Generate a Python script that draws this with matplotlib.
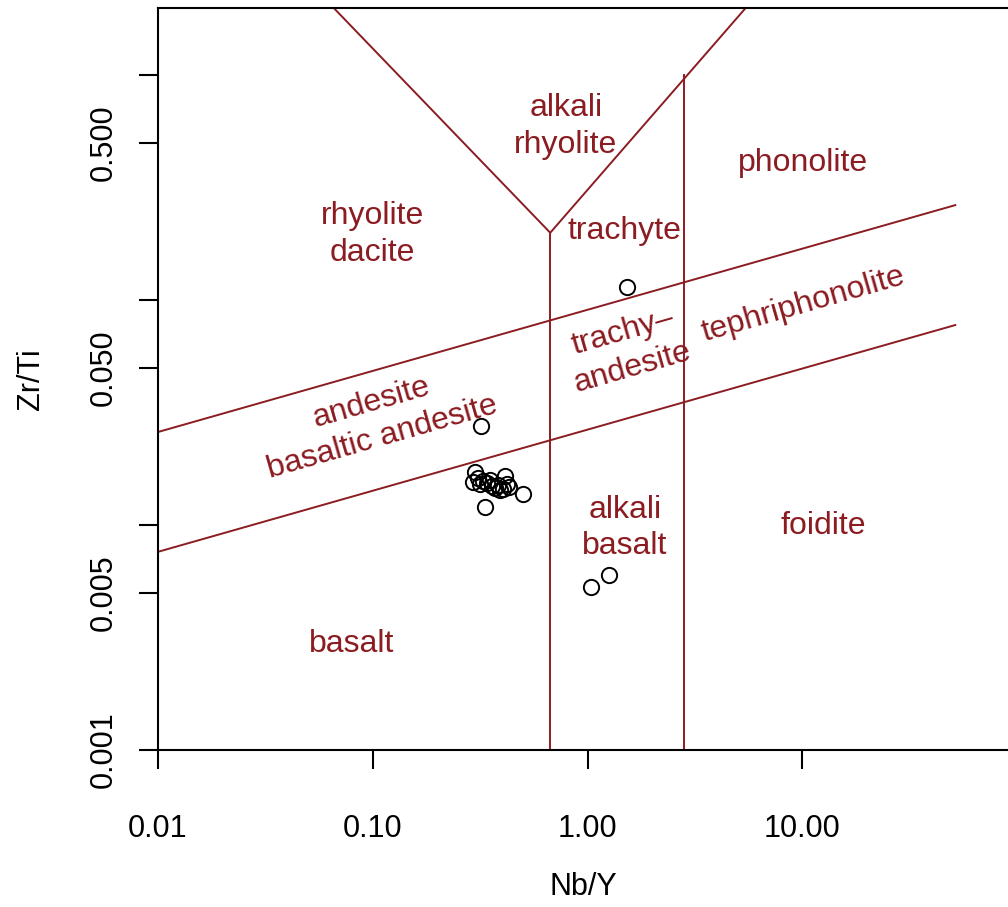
import numpy as np
import matplotlib
matplotlib.use("Agg")
import matplotlib.pyplot as plt

plt.rcParams['font.family'] = ['Liberation Sans', 'DejaVu Sans']

# samples (Nb/Y, Zr/Ti)
nb_y = [0.319, 1.526, 1.037, 1.258,
        0.299, 0.293, 0.309, 0.326, 0.340, 0.359, 0.371, 0.391,
        0.413, 0.422, 0.431, 0.500, 0.333, 0.316, 0.351, 0.383, 0.404]
zr_ti = [0.0275, 0.114, 0.0053, 0.0060,
         0.0172, 0.0155, 0.0162, 0.0157, 0.0154, 0.0149, 0.0146, 0.0143,
         0.0165, 0.0152, 0.0148, 0.0137, 0.0120, 0.0152, 0.0158, 0.0151, 0.0145]

# field boundaries (Pearce 1996)
upper_x = [0.01, 51.5]
upper_y = [0.0259, 0.264]
lower_x = [0.01, 51.5]
lower_y = [0.0076, 0.0774]
vee_x = [0.0653, 0.67, 5.48]
vee_y = [2.0, 0.199, 2.0]
vert1_x = [0.67, 0.67]
vert1_y = [0.001, 0.199]
vert2_x = [2.81, 2.81]
vert2_y = [0.001, 1.0]

# field labels
labels = ["alkali\nrhyolite", "phonolite", "rhyolite\ndacite", "trachyte",
          "trachy\u2013\nandesite", "tephriphonolite",
          "andesite\nbasaltic andesite", "alkali\nbasalt", "foidite", "basalt"]
label_x = [0.793, 10.07, 0.1, 1.49, 1.54, 10.07, 0.1046, 1.49, 12.5, 0.080]
label_y = [0.588, 0.406, 0.196, 0.203, 0.060, 0.095, 0.0293, 0.0097, 0.0099, 0.00296]
label_rot = [0, 0, 0, 0, 16, 16, 16, 0, 0, 0]

xticks = [0.01, 0.1, 1, 10]
xticklabels = ["0.01", "0.10", "1.00", "10.00"]
yticks = [0.001, 0.005, 0.01, 0.05, 0.1, 0.5, 1]
yticklabels = ["0.001", "0.005", "", "0.050", "", "0.500", ""]

red = "#8b1c21"

fig = plt.figure(figsize=(10.08, 9.07), dpi=100)
ax = fig.add_axes([158 / 1008, 157 / 907, 850 / 1008, 742 / 907])
ax.set_xscale("log")
ax.set_yscale("log")
ax.set_xlim(0.01, 10 ** (-2 + 850 / 214.8))
ax.set_ylim(0.001, 10 ** (-3 + 742 / 225))

for xs, ys in [(upper_x, upper_y), (lower_x, lower_y), (vee_x, vee_y),
               (vert1_x, vert1_y), (vert2_x, vert2_y)]:
    ax.plot(xs, ys, color=red, lw=1.4, clip_on=True)

for t, x, y, r in zip(labels, label_x, label_y, label_rot):
    ax.text(x, y, t, color=red, fontsize=23, ha="center", va="center",
            rotation=r, rotation_mode="anchor", linespacing=1.3)

ax.plot(nb_y, zr_ti, "o", mfc="none", mec="black", ms=11, mew=1.4)

ax.spines["right"].set_visible(False)
for s in ["left", "bottom", "top"]:
    ax.spines[s].set_linewidth(1.5)

ax.xaxis.set_minor_locator(matplotlib.ticker.NullLocator())
ax.yaxis.set_minor_locator(matplotlib.ticker.NullLocator())
ax.set_xticks(xticks)
ax.set_xticklabels(xticklabels)
ax.set_yticks(yticks)
ax.set_yticklabels(yticklabels, rotation=90, va="center")
ax.tick_params(length=14, width=1.5, labelsize=22)
ax.tick_params(axis="x", pad=32)
ax.tick_params(axis="y", pad=14)

ax.set_xlabel("Nb/Y", fontsize=22, labelpad=20)
ax.set_ylabel("Zr/Ti", fontsize=22, labelpad=31)

fig.savefig("out.png", dpi=100)
